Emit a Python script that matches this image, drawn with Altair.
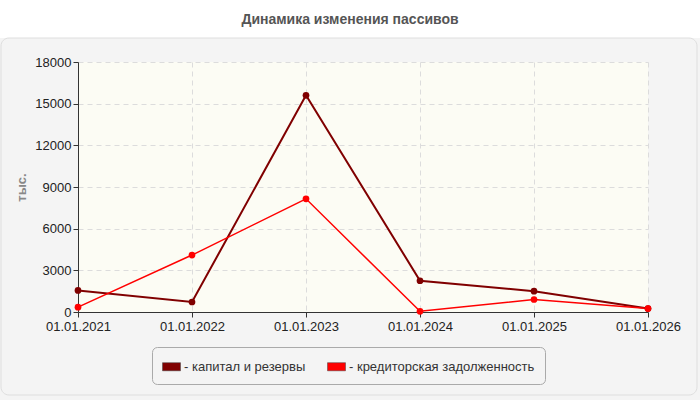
import altair as alt
import pandas as pd

dates = ["01.01.2021", "01.01.2022", "01.01.2023", "01.01.2024", "01.01.2025", "01.01.2026"]
capital = [1550, 720, 15600, 2250, 1500, 250]
creditor = [350, 4100, 8150, 50, 900, 250]
series_names = ["капитал и резервы", "кредиторская задолженность"]
series_colors = ["#800000", "#ff0000"]
y_ticks = [0, 3000, 6000, 9000, 12000, 15000, 18000]
title_text = "Динамика изменения пассивов"
y_title = "тыс."

rows = []
for d, v in zip(dates, capital):
    rows.append({"date": d, "value": v, "series": series_names[0]})
for d, v in zip(dates, creditor):
    rows.append({"date": d, "value": v, "series": series_names[1]})
df = pd.DataFrame(rows)

FONT = "Liberation Sans"
W, H = 570, 250

x_enc = alt.X("date:N", sort=dates,
              scale=alt.Scale(type="point", padding=0),
              axis=alt.Axis(title=None, labelAngle=0, labelFontSize=13, labelColor="#222",
                            labelFont=FONT, labelPadding=3, tickSize=5, tickColor="#333",
                            domainColor="#333", grid=True, gridDash=[5, 4],
                            gridColor="#dcdcdc", labelOverlap=False))
y_enc = alt.Y("value:Q",
              scale=alt.Scale(domain=[0, 18000], nice=False),
              axis=alt.Axis(values=y_ticks, format="d", title=y_title, titleFontSize=13,
                            titleFontWeight="bold", titleColor="#888", titleFont=FONT,
                            titlePadding=6, labelFontSize=13, labelColor="#222",
                            labelFont=FONT, tickSize=5, tickColor="#333",
                            domainColor="#333", grid=True, gridDash=[5, 4],
                            gridColor="#dcdcdc", labelPadding=2))
color_scale = alt.Scale(domain=series_names, range=series_colors)

# white strip above the panel and panel border
top_strip = alt.Chart(alt.Data(values=[{}])).mark_rect(color="white").encode(
    x=alt.value(-78), x2=alt.value(622), y=alt.value(-62), y2=alt.value(-24))
panel_border = alt.Chart(alt.Data(values=[{}])).mark_rect(
    fill=None, stroke="#dedede", strokeWidth=1, cornerRadius=8).encode(
    x=alt.value(-77), x2=alt.value(619), y=alt.value(-24), y2=alt.value(333))
title = alt.Chart(alt.Data(values=[{"t": title_text}])).mark_text(
    font=FONT, fontSize=14, fontWeight="bold", color="#555", align="center",
    baseline="middle").encode(x=alt.value(272), y=alt.value(-42), text="t:N")

lines = alt.Chart(df).mark_line().encode(
    x=x_enc, y=y_enc,
    color=alt.Color("series:N", scale=color_scale, legend=None),
    strokeWidth=alt.condition(alt.datum.series == series_names[0], alt.value(2), alt.value(1.5)),
)
points = alt.Chart(df).mark_point(filled=True, opacity=1, size=45, shape="circle").encode(
    x=x_enc, y=y_enc,
    color=alt.Color("series:N", scale=color_scale,
                    legend=alt.Legend(title=None, orient="none", legendX=74, legendY=285,
                                      direction="horizontal", labelExpr="'- ' + datum.label",
                                      labelFont=FONT, labelFontSize=13, labelColor="#333",
                                      labelLimit=400,
                                      symbolType="M-1,-0.45H1V0.45H-1Z", symbolSize=324,
                                      symbolStrokeColor="#444", symbolStrokeWidth=0.5,
                                      labelOffset=3, columnPadding=20, padding=10,
                                      fillColor="#f4f4f4", strokeColor="#aaa",
                                      cornerRadius=5)),
)

chart = alt.layer(top_strip, panel_border, title, lines, points).properties(
    width=W, height=H,
    autosize=alt.AutoSizeParams(type="none"),
    padding={"left": 78, "top": 62, "right": 52, "bottom": 88},
    background="#f4f4f4",
).configure_view(fill="#fcfcf4", stroke=None).resolve_legend(color="independent")

chart.save("out.html", embed_options={"renderer": "svg", "actions": False})
